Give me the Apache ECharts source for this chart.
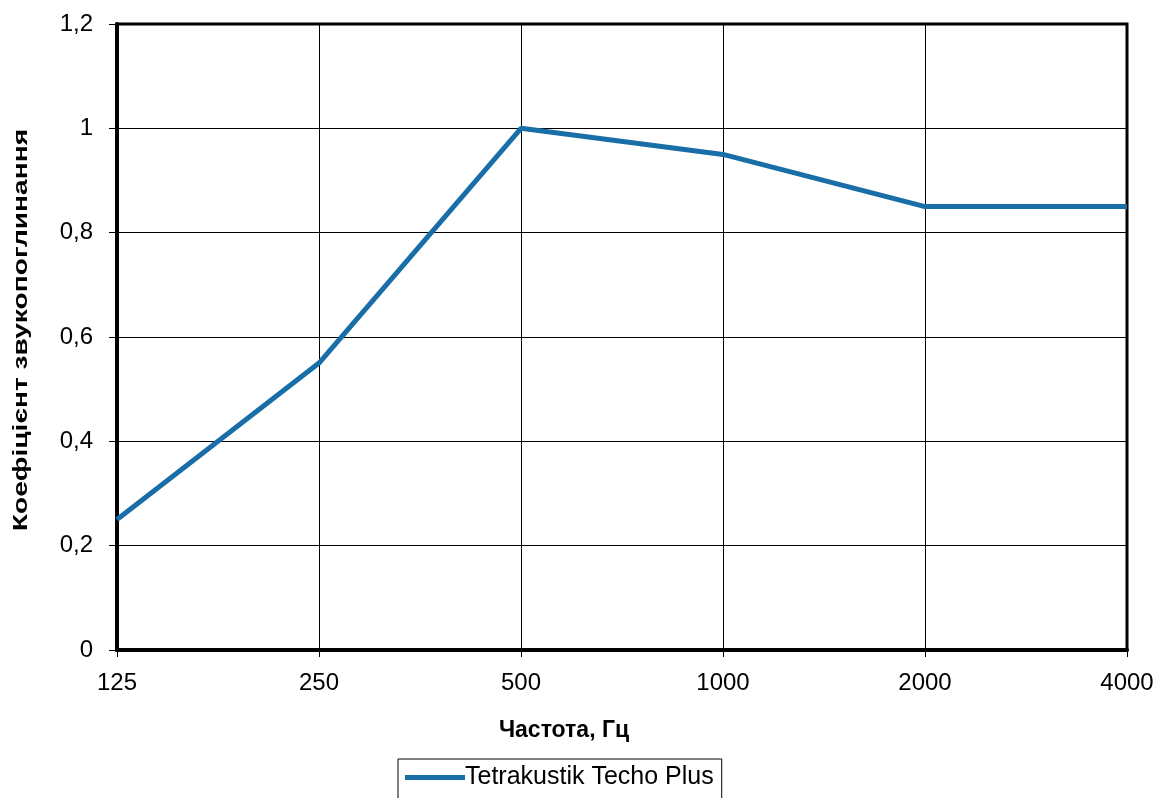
<!DOCTYPE html>
<html><head><meta charset="utf-8">
<script src="https://cdn.jsdelivr.net/npm/echarts@6/dist/echarts.min.js"></script>
<style>html,body{margin:0;padding:0;background:#fff}#c{width:1159px;height:798px}</style>
</head><body><div id="c"></div>
<script>
var categories = ['125','250','500','1000','2000','4000'];
var values = [0.25, 0.55, 1.0, 0.95, 0.85, 0.85];
var seriesName = 'Tetrakustik Techo Plus';
var xTitle = 'Частота, Гц';
var yTitle = 'Коефіцієнт звукопоглинання';

var chart = echarts.init(document.getElementById('c'));
var font = 'Liberation Sans, Arial, sans-serif';
chart.setOption({
  animation: false,
  backgroundColor: '#fff',
  grid: {left: 117, right: 32, top: 24, bottom: 148, show: true, borderColor: '#000', borderWidth: 3,
         backgroundColor: 'transparent', outerBoundsMode: 'none', containLabel: false},
  legend: {
    data: [seriesName], left: 398, top: 759, orient: 'horizontal',
    borderColor: '#000', borderWidth: 1, padding: [6, 8, 12, 7],
    itemWidth: 60, itemHeight: 5, itemGap: 0,
    textStyle: {fontFamily: font, fontSize: 25, color: '#000', padding: [0,0,0,-5]},
    icon: 'rect'
  },
  graphic: [{
    type: 'text', x: 21, y: 330, rotation: Math.PI / 2, scaleX: 1.34, scaleY: 1,
    style: {text: yTitle, font: 'bold 21px ' + font, fill: '#000', align: 'center', verticalAlign: 'middle'}
  }],
  xAxis: {
    type: 'category', data: categories, boundaryGap: false,
    name: xTitle, nameLocation: 'middle', nameGap: 69,
    nameTextStyle: {fontFamily: font, fontSize: 23, fontWeight: 'bold', color: '#000', padding: [0, 116, 0, 0]},
    axisLine: {lineStyle: {color: '#000', width: 4}},
    axisTick: {show: true, length: 7, lineStyle: {color: '#000', width: 1}},
    axisLabel: {fontFamily: font, fontSize: 24, color: '#000', margin: 21},
    splitLine: {show: true, lineStyle: {color: '#000', width: 1}}
  },
  yAxis: {
    type: 'value', min: 0, max: 1.2, interval: 0.2,
    axisLine: {show: true, lineStyle: {color: '#000', width: 4}},
    axisTick: {show: true, length: 8, lineStyle: {color: '#000', width: 1}},
    axisLabel: {fontFamily: font, fontSize: 24, color: '#000', margin: 24,
      formatter: function(v){ return String(Math.round(v*10)/10).replace('.', ','); }},
    splitLine: {show: true, lineStyle: {color: '#000', width: 1}}
  },
  series: [{
    name: seriesName, type: 'line', data: values, showSymbol: false, symbol: 'none',
    lineStyle: {color: '#1a6ea8', width: 5}, itemStyle: {color: '#1a6ea8'}
  }]
});
</script></body></html>
